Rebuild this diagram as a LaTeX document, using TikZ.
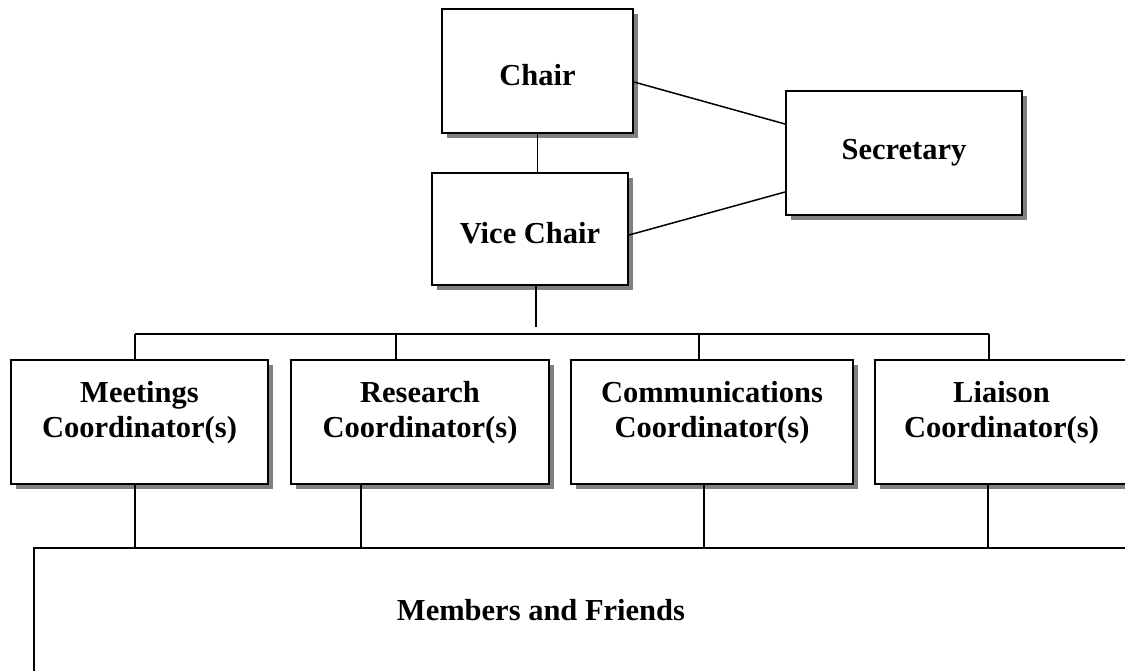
\documentclass[tikz,border=0pt]{standalone}
\usepackage{fontspec}
\setmainfont{Liberation Serif}
\usetikzlibrary{positioning,shadows}

\begin{document}
\begin{tikzpicture}[
    x=1pt, y=-1pt,
    unit/.style={
        rectangle,
        draw=black,
        fill=white,
        line width=2pt,
        inner sep=0pt,
        align=center,
        font=\fontsize{30.5}{35}\selectfont\bfseries,
        drop shadow={shadow xshift=5pt, shadow yshift=-5pt, fill=gray, opacity=1}
    },
    caption/.style={
        align=center,
        inner sep=0pt,
        font=\fontsize{30.5}{35}\selectfont\bfseries
    },
    link/.style={draw=black, line width=1.5pt}
]

    % --- PAGE ---
    \useasboundingbox (0,0) rectangle (1125,670);
    \clip (0,0) rectangle (1125,670);

    % --- TOP ---
    \node[unit, minimum width=191pt, minimum height=124pt] (chair) at (537.5,71) {};
    \node[unit, minimum width=196pt, minimum height=112pt] (vice) at (530,229) {};
    \node[unit, minimum width=236pt, minimum height=124pt] (secr) at (904,153) {Secretary};

    \node[caption] (chairtxt) at ([yshift=-4pt]chair.center) {Chair};
    \node[caption] (vicetxt) at ([yshift=-4pt]vice.center) {Vice Chair};

    % --- COORDINATORS ---
    \node[unit, minimum width=257pt, minimum height=124pt] (meet) at (139.5,422) {};
    \node[unit, minimum width=258pt, minimum height=124pt] (res) at (420,422) {};
    \node[unit, minimum width=282pt, minimum height=124pt] (comm) at (712,422) {};
    \node[unit, minimum width=253pt, minimum height=124pt] (liai) at (1001.5,422) {};

    \node[caption] (meettxt) at ([yshift=9pt]meet.center) {Meetings\\Coordinator(s)};
    \node[caption] (restxt) at ([yshift=9pt]res.center) {Research\\Coordinator(s)};
    \node[caption] (commtxt) at ([yshift=9pt]comm.center) {Communications\\Coordinator(s)};
    \node[caption] (liaitxt) at ([yshift=9pt]liai.center) {Liaison\\Coordinator(s)};

    % --- MEMBERS ---
    \node[unit, minimum width=1126pt, minimum height=172pt] (memb) at (597,634) {};
    \node[caption] (membtxt) at (541,610) {Members and Friends};

    % --- CONNECTIONS ---
    \coordinate (hub) at (536,327);
    \coordinate (t1) at (135,334);
    \coordinate (t2) at (396,334);
    \coordinate (t3) at (699,334);
    \coordinate (t4) at (989,334);
    \coordinate (b1) at (135,548);
    \coordinate (b2) at (361,548);
    \coordinate (b3) at (704,548);
    \coordinate (b4) at (988,548);

    \draw[link] (chair.south) -- (chair.south |- vice.north);
    \draw[link] ([yshift=-11pt]chair.east) -- ([yshift=29pt]secr.west);
    \draw[link] ([yshift=-6pt]vice.east) -- ([yshift=-39pt]secr.west);
    \draw[link] (hub |- vice.south) -- (hub);

    \draw[link] (t1) -- (t4);
    \draw[link] (t1) -- (t1 |- meet.north);
    \draw[link] (t2) -- (t2 |- res.north);
    \draw[link] (t3) -- (t3 |- comm.north);
    \draw[link] (t4) -- (t4 |- liai.north);

    \draw[link] (b1 |- meet.south) -- (b1);
    \draw[link] (b2 |- res.south) -- (b2);
    \draw[link] (b3 |- comm.south) -- (b3);
    \draw[link] (b4 |- liai.south) -- (b4);

\end{tikzpicture}
\end{document}
